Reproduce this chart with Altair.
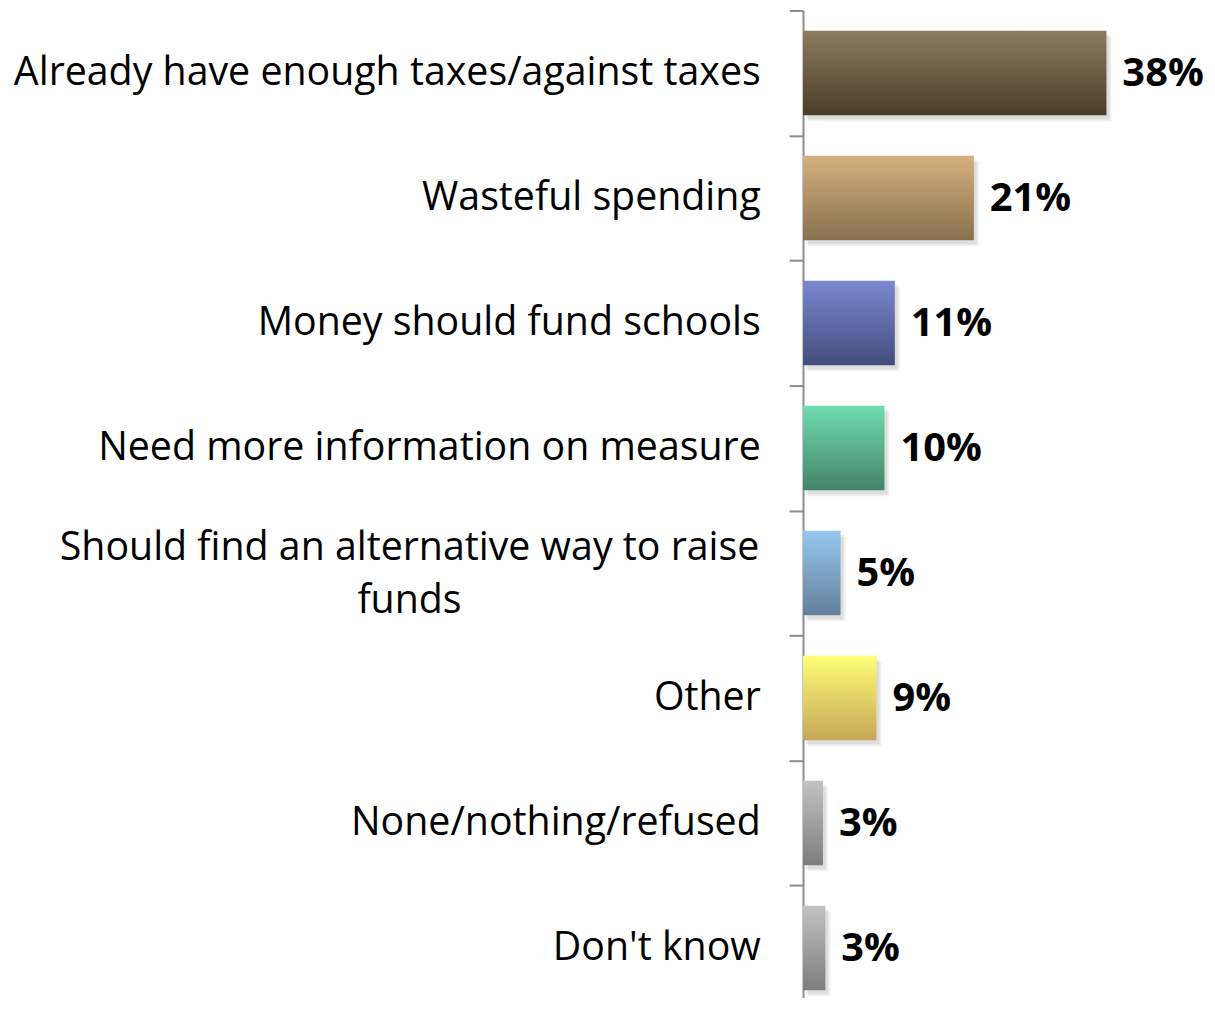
import altair as alt
import pandas as pd

categories = [
    "Already have enough taxes/against taxes",
    "Wasteful spending",
    "Money should fund schools",
    "Need more information on measure",
    "Should find an alternative way to raise funds",
    "Other",
    "None/nothing/refused",
    "Don't know",
]
values = [38.0, 21.4, 11.5, 10.2, 4.7, 9.2, 2.5, 2.8]
value_labels = ["38%", "21%", "11%", "10%", "5%", "9%", "3%", "3%"]

# gradient (top, bottom) colours for each bar
bar_gradients = [
    ("#8b7d61", "#4a3d27"),
    ("#d6b07f", "#88704f"),
    ("#7a88d0", "#434d7c"),
    ("#72dcb0", "#438468"),
    ("#96c7f0", "#62809c"),
    ("#ffff78", "#c8a656"),
    ("#c3c3c3", "#7d7d7d"),
    ("#c3c3c3", "#7d7d7d"),
]

df = pd.DataFrame({"category": categories, "value": values, "label": value_labels})

wrap_cat = "Should find an alternative way to raise funds"
test_expr = 'datum.value == "' + wrap_cat + '"'

y_enc = alt.Y(
    "category:N",
    sort=categories,
    scale=alt.Scale(paddingInner=0, paddingOuter=0, range=[0, 1005]),
    axis=alt.Axis(
        title=None,
        tickBand="extent",
        domainColor="#8c8c8c",
        domainWidth=2,
        tickColor="#8c8c8c",
        tickWidth=2,
        tickSize=14,
        labelFont="Open Sans",
        labelFontSize=39.5,
        labelColor="#000000",
        labelLimit=1000,
        labelLineHeight=54,
        labelPadding={"condition": {"test": test_expr, "value": 382}, "value": 29},
        labelAlign={"condition": {"test": test_expr, "value": "center"}, "value": "right"},
        labelOffset={"condition": {"test": test_expr, "value": -26}, "value": 0},
        labelExpr='datum.label == "' + wrap_cat + '" ? ["Should find an alternative way to raise", "funds"] : datum.label',
    ),
)
x_enc = alt.X("value:Q", scale=alt.Scale(domain=[0, 40], nice=False, zero=True), axis=None)

base = alt.Chart(df).encode(y=y_enc, x=x_enc)

BAR = 85
layers = [
    base.mark_bar(color="#000000", opacity=0.06, xOffset=5, yOffset=6, size=BAR),
    base.mark_bar(color="#000000", opacity=0.08, xOffset=3, yOffset=4, size=BAR),
]
for cat, (top, bottom) in zip(categories, bar_gradients):
    layers.append(
        base.transform_filter(alt.datum.category == cat).mark_bar(
            size=BAR,
            color=alt.Gradient(
                gradient="linear",
                x1=0, x2=0, y1=0, y2=1,
                stops=[alt.GradientStop(color=top, offset=0), alt.GradientStop(color=bottom, offset=1)],
            ),
        )
    )
layers.append(
    base.mark_text(
        align="left", baseline="middle", dx=16, dy=1,
        font="Open Sans", fontSize=40, fontWeight="bold", color="#000000",
    ).encode(text="label:N")
)

chart = (
    alt.layer(*layers)
    .properties(
        width=321,
        height=990,
        autosize=alt.AutoSizeParams(type="none"),
        padding={"left": 799, "top": 0, "right": 85, "bottom": 0},
    )
    .configure_view(stroke=None)
)

chart.save("out.html", embed_options={"renderer": "svg", "actions": False})
